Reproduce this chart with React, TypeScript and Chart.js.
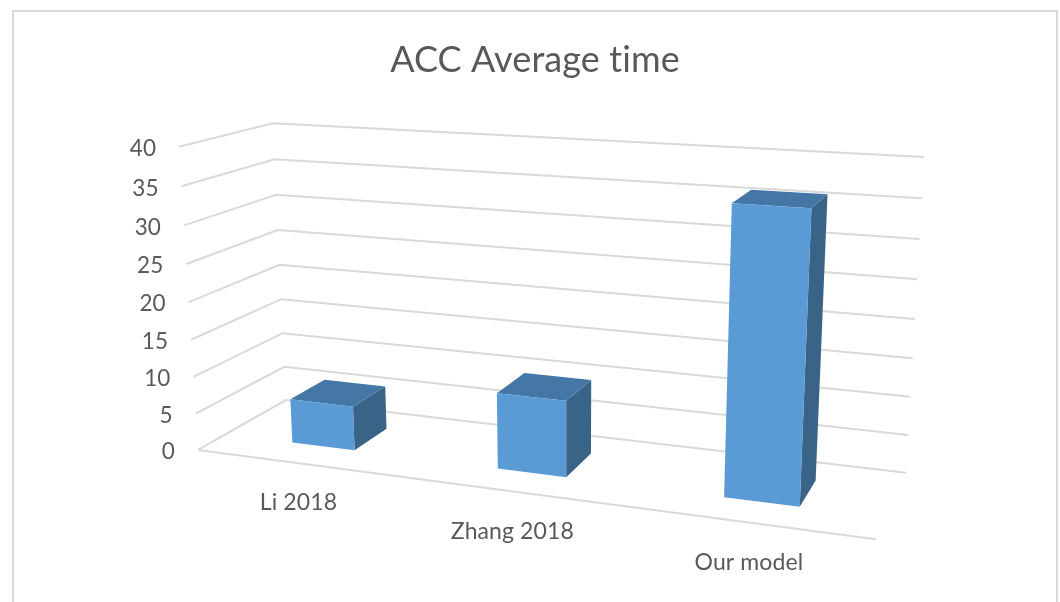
import React, { useEffect, useRef } from "react";
import { Chart, registerables } from "chart.js";

Chart.register(...registerables);

const TITLE = "ACC Average time";
const categories = ["Li 2018", "Zhang 2018", "Our model"];
const accTime = [6, 10, 36];
const yTicks = { min: 0, max: 40, stepSize: 5 };

// Camera calibration of the 3-D box: [across, depth, height(0..1)] -> screen position
const CAMERA: number[][] = [
  [0, 0, 0, 198, 450], [0, 0, 0.5, 188.7, 302], [0, 0, 1, 179, 147],
  [0, 1, 0, 286, 400], [0, 1, 0.5, 279, 265], [0, 1, 1, 273, 123],
  [1, 1, 0, 906, 473], [1, 1, 0.5, 915, 319], [1, 1, 1, 924, 157],
  [1, 0, 0, 876, 539],
];
const BAR_DEPTH = [0.3, 0.71];
const GRID = "#d9d9d9";
const TEXT = "#595959";
const SIDE = "#396488";
const TOP = "#4577a6";
const FONT = "Lato";

function solve(A: number[][], b: number[]) {
  const n = b.length;
  const M = A.map((r, i) => [...r, b[i]]);
  for (let c = 0; c < n; c++) {
    let p = c;
    for (let r = c + 1; r < n; r++) if (Math.abs(M[r][c]) > Math.abs(M[p][c])) p = r;
    [M[c], M[p]] = [M[p], M[c]];
    for (let r = 0; r < n; r++) {
      if (r === c) continue;
      const f = M[r][c] / M[c][c];
      for (let k = c; k <= n; k++) M[r][k] -= f * M[c][k];
    }
  }
  return M.map((r, i) => r[n] / r[i]);
}

function fitCamera() {
  const rows: number[][] = [];
  const rhs: number[] = [];
  for (const [u, w, v, X, Y] of CAMERA) {
    const x = X / 1000, y = Y / 1000;
    rows.push([u, w, v, 1, 0, 0, 0, 0, -x * u, -x * w, -x * v]); rhs.push(x);
    rows.push([0, 0, 0, 0, u, w, v, 1, -y * u, -y * w, -y * v]); rhs.push(y);
  }
  const n = 11;
  const AtA = Array.from({ length: n }, (_, i) =>
    Array.from({ length: n }, (_, j) => rows.reduce((s, r) => s + r[i] * r[j], 0)));
  const Atb = Array.from({ length: n }, (_, i) => rows.reduce((s, r, k) => s + r[i] * rhs[k], 0));
  const p = solve(AtA, Atb);
  return (u: number, w: number, v: number): [number, number] => {
    const d = p[8] * u + p[9] * w + p[10] * v + 1;
    return [
      (1000 * (p[0] * u + p[1] * w + p[2] * v + p[3])) / d,
      (1000 * (p[4] * u + p[5] * w + p[6] * v + p[7])) / d,
    ];
  };
}

const project = fitCamera();

function poly(ctx: CanvasRenderingContext2D, pts: [number, number][], fill: string) {
  ctx.beginPath();
  pts.forEach((p, i) => (i ? ctx.lineTo(p[0], p[1]) : ctx.moveTo(p[0], p[1])));
  ctx.closePath();
  ctx.fillStyle = fill;
  ctx.fill();
}

const box3d = {
  id: "box3d",
  beforeDraw(chart: any) {
    const { ctx, width, height } = chart;
    ctx.save();
    ctx.fillStyle = "#fff";
    ctx.fillRect(0, 0, width, height);
    ctx.strokeStyle = GRID;
    ctx.lineWidth = 2;
    ctx.beginPath();
    ctx.moveTo(13, height);
    ctx.lineTo(13, 11);
    ctx.lineTo(1057, 11);
    ctx.lineTo(1057, height);
    ctx.stroke();
    ctx.restore();
    ctx.letterSpacing = "0.1px"; // keeps "ti" as two separate letters
  },
  beforeDatasetsDraw(chart: any) {
    const { ctx, scales, chartArea: a } = chart;
    const vOf = (val: number) => (a.bottom - scales.y.getPixelForValue(val)) / a.height;
    ctx.save();
    ctx.strokeStyle = GRID;
    ctx.lineWidth = 2;
    ctx.lineJoin = "miter";
    for (const t of scales.y.ticks) {
      const v = vOf(t.value);
      const fl = project(0, 0, v), bl = project(0, 1, v), br = project(1, 1, v);
      ctx.beginPath();
      ctx.moveTo(fl[0], fl[1]);
      ctx.lineTo(bl[0], bl[1]);
      ctx.lineTo(br[0], br[1]);
      ctx.stroke();
      if (t.value === 0) {
        const fr = project(1, 0, 0);
        ctx.beginPath();
        ctx.moveTo(fl[0], fl[1]);
        ctx.lineTo(fr[0], fr[1]);
        ctx.stroke();
      }
      ctx.fillStyle = TEXT;
      ctx.font = `22.5px ${FONT}`;
      ctx.textAlign = "right";
      ctx.textBaseline = "middle";
      ctx.fillText(String(t.value), fl[0] - 23, fl[1] + 2);
    }
    ctx.textAlign = "center";
    ctx.font = `23px ${FONT}`;
    scales.x.ticks.forEach((t: any, i: number) => {
      const u = (scales.x.getPixelForTick(i) - a.left) / a.width;
      const p = project(u, 0, 0);
      ctx.fillText(scales.x.getLabelForValue(t.value), p[0] + 1, p[1] + 40);
    });
    ctx.restore();
  },
  beforeDatasetDraw(chart: any, args: any) {
    const { ctx, chartArea: a } = chart;
    const color = chart.data.datasets[args.index].backgroundColor;
    for (const bar of args.meta.data) {
      const u0 = (bar.x - bar.width / 2 - a.left) / a.width;
      const u1 = (bar.x + bar.width / 2 - a.left) / a.width;
      const v0 = (a.bottom - bar.base) / a.height;
      const v1 = (a.bottom - bar.y) / a.height;
      const [w0, w1] = BAR_DEPTH;
      poly(ctx, [project(u1, w0, v0), project(u1, w1, v0), project(u1, w1, v1), project(u1, w0, v1)], SIDE);
      poly(ctx, [project(u0, w0, v1), project(u1, w0, v1), project(u1, w1, v1), project(u0, w1, v1)], TOP);
      poly(ctx, [project(u0, w0, v0), project(u1, w0, v0), project(u1, w0, v1), project(u0, w0, v1)], color);
    }
    return false;
  },
};

export default function App() {
  const ref = useRef<HTMLCanvasElement>(null);
  useEffect(() => {
    const chart = new Chart(ref.current!, {
      type: "bar",
      data: {
        labels: categories,
        datasets: [{ label: TITLE, data: accTime, backgroundColor: "#5b9bd5", barPercentage: 0.313, categoryPercentage: 1 }],
      },
      plugins: [box3d],
      options: {
        responsive: false,
        animation: false,
        layout: { padding: { left: 198, right: 196, top: 0, bottom: 152 } },
        plugins: {
          legend: { display: false },
          tooltip: { enabled: false },
          title: {
            display: true,
            text: TITLE,
            fullSize: false,
            color: TEXT,
            font: { family: FONT, size: 36, weight: "normal" },
            padding: { top: 39, bottom: 65 },
          },
        },
        scales: {
          x: { grid: { display: false }, border: { display: false }, ticks: { display: false } },
          y: { min: yTicks.min, max: yTicks.max, grid: { display: false }, border: { display: false }, ticks: { display: false, stepSize: yTicks.stepSize } },
        },
      },
    } as any);
    return () => chart.destroy();
  }, []);
  return (
    <div style={{ position: "absolute", left: 0, top: 0, width: 1060, height: 602, background: "#fff" }}>
      <canvas ref={ref} width={1060} height={602} style={{ display: "block" }} />
    </div>
  );
}
